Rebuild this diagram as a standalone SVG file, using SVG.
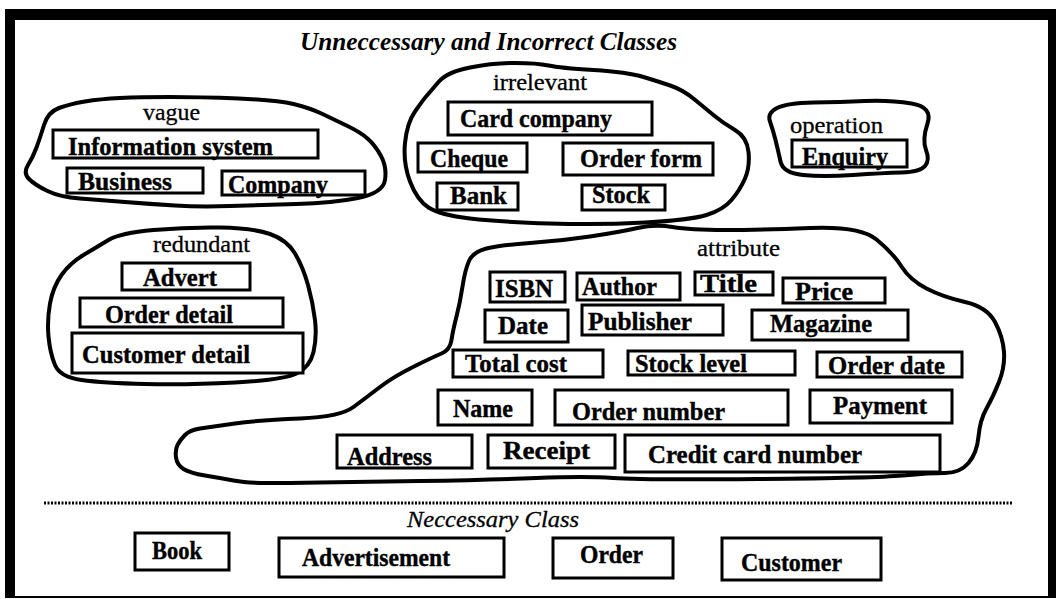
<svg xmlns="http://www.w3.org/2000/svg" width="1056" height="599" viewBox="0 0 1056 599">
<style>
.box{fill:#fff;stroke:#000;stroke-width:3}
.blob{fill:none;stroke:#000;stroke-width:4;stroke-linejoin:round;stroke-linecap:round}
.lbl{font-family:"Liberation Serif","Times New Roman",serif;font-weight:bold;font-size:25px;fill:#000;stroke:#000;stroke-width:0.4}
.cat{font-family:"Liberation Serif","Times New Roman",serif;font-size:24px;fill:#000;stroke:#000;stroke-width:0.3}
.head{font-family:"Liberation Serif","Times New Roman",serif;font-style:italic;font-weight:bold;font-size:25px;fill:#000}
.head2{font-family:"Liberation Serif","Times New Roman",serif;font-style:italic;font-size:24px;fill:#000;stroke:#000;stroke-width:0.3}
</style>
<rect width="1056" height="599" fill="#fff"/>
<g id="frame" fill="#000">
<rect x="5" y="9" width="1051" height="11"/>
<rect x="5" y="9" width="10" height="589"/>
<rect x="1048" y="9" width="8" height="589"/>
<rect x="5" y="596" width="1051" height="2"/>
</g>
<text class="head" x="300" y="50" textLength="377" lengthAdjust="spacingAndGlyphs">Unneccessary and Incorrect Classes</text>

<g id="vague">
<path class="blob" d="M44,125 Q48,112 59,108 Q70,104 85,101.5 Q100,99 120,98 Q140,97 170,97 Q200,97 238.5,98.5 Q277,100 293.5,104 Q310,108 322.5,114 Q335,120 347.5,126 Q360,132 367.5,138.5 Q375,145 381,156 Q387,167 385,180 Q383,193 358,198 Q333,203 296.5,204 Q260,205 230,206 Q200,207 175,205.5 Q150,204 125,202 Q100,200 80,198.5 Q60,197 47.5,191 Q35,185 29,179 Q23,173 28,165 Q33,157 36.5,147.5 Q40,138 44,125 Z"/>
<text class="cat" x="143" y="120" textLength="57" lengthAdjust="spacingAndGlyphs">vague</text>
<g id="information-system"><rect class="box" x="53" y="130" width="265" height="28"/><text class="lbl" x="68" y="155" textLength="205" lengthAdjust="spacingAndGlyphs">Information system</text></g>
<g id="business"><rect class="box" x="67" y="168" width="136" height="25"/><text class="lbl" x="78" y="190" textLength="94" lengthAdjust="spacingAndGlyphs">Business</text></g>
<g id="company"><rect class="box" x="222" y="171" width="143" height="24"/><text class="lbl" x="228" y="193" textLength="100" lengthAdjust="spacingAndGlyphs">Company</text></g>
</g>

<g id="irrelevant">
<path class="blob" d="M426.5,96 Q430,92 438.5,82 Q447,72 470,67.5 Q493,63 515,63 Q537,63 548.5,65.5 Q560,68 593.5,70 Q627,72 643.5,77 Q660,82 671.5,86 Q683,90 694,99 Q705,108 714,115.5 Q723,123 735,130 Q747,137 748.5,152 Q750,167 745,178.5 Q740,190 731.5,200 Q723,210 706.5,215 Q690,220 645,222.5 Q600,225 550,223.5 Q500,222 470,218.5 Q440,215 428.5,207.5 Q417,200 410,181.5 Q403,163 405,143 Q407,123 415,111.5 Q423,100 426.5,96 Z"/>
<text class="cat" x="493" y="90" textLength="94" lengthAdjust="spacingAndGlyphs">irrelevant</text>
<g id="card-company"><rect class="box" x="448" y="102" width="204" height="33"/><text class="lbl" x="460" y="127" textLength="152" lengthAdjust="spacingAndGlyphs">Card company</text></g>
<g id="cheque"><rect class="box" x="418" y="143" width="109" height="29"/><text class="lbl" x="430" y="167" textLength="78" lengthAdjust="spacingAndGlyphs">Cheque</text></g>
<g id="order-form"><rect class="box" x="563" y="143" width="150" height="32"/><text class="lbl" x="580" y="167" textLength="122" lengthAdjust="spacingAndGlyphs">Order form</text></g>
<g id="bank"><rect class="box" x="437" y="183" width="81" height="27"/><text class="lbl" x="450" y="204" textLength="57" lengthAdjust="spacingAndGlyphs">Bank</text></g>
<g id="stock"><rect class="box" x="582" y="185" width="83" height="25"/><text class="lbl" x="592" y="203" textLength="58" lengthAdjust="spacingAndGlyphs">Stock</text></g>
</g>

<g id="operation">
<path class="blob" d="M770,121.5 Q767,113 777,108 Q787,103 813.5,102.5 Q840,102 865,101 Q890,100 911.5,103.5 Q933,107 927.5,123.5 Q922,140 926,150 Q930,160 925,166 Q920,172 901.5,172.5 Q883,173 853,175 Q823,177 803,175 Q783,173 780.5,161.5 Q778,150 775.5,140 Q773,130 770,121.5 Z"/>
<text class="cat" x="790" y="133" textLength="93" lengthAdjust="spacingAndGlyphs">operation</text>
<g id="enquiry"><rect class="box" x="792" y="140" width="115" height="27"/><text class="lbl" x="802" y="165" textLength="86" lengthAdjust="spacingAndGlyphs">Enquiry</text></g>
</g>

<g id="redundant">
<path class="blob" d="M83.5,255 Q97,247 108.5,240 Q120,233 153.5,230 Q187,227 220,227.5 Q253,228 270,234 Q287,240 295,253.5 Q303,267 308,285 Q313,303 315,320 Q317,337 313.5,352 Q310,367 296.5,373.5 Q283,380 235,382.5 Q187,385 145,384 Q103,383 81.5,380 Q60,377 55,365 Q50,353 48.5,336.5 Q47,320 50,303.5 Q53,287 61.5,275 Q70,263 83.5,255 Z"/>
<text class="cat" x="153" y="252" textLength="97" lengthAdjust="spacingAndGlyphs">redundant</text>
<g id="advert"><rect class="box" x="122" y="263" width="128" height="27"/><text class="lbl" x="143" y="286" textLength="74" lengthAdjust="spacingAndGlyphs">Advert</text></g>
<g id="order-detail"><rect class="box" x="80" y="298" width="203" height="29"/><text class="lbl" x="105" y="323" textLength="128" lengthAdjust="spacingAndGlyphs">Order detail</text></g>
<g id="customer-detail"><rect class="box" x="72" y="333" width="231" height="40"/><text class="lbl" x="82" y="363" textLength="168" lengthAdjust="spacingAndGlyphs">Customer detail</text></g>
</g>

<g id="attribute">
<path class="blob" d="M469,261 Q473,252 486.5,248.5 Q500,245 530,243 Q560,241 590,236.5 Q620,232 637.5,228 Q655,224 672.5,227 Q690,230 725,230 Q760,230 810,228 Q860,226 876.5,239.5 Q893,253 901.5,266.5 Q910,280 926.5,288.5 Q943,297 965,302 Q987,307 995,322 Q1003,337 1004,352 Q1005,367 999,382 Q993,397 986.5,408.5 Q980,420 978.5,436.5 Q977,453 968.5,463 Q960,473 945,473 Q930,473 902.5,475.5 Q875,478 757.5,479 Q640,480 613,478 Q586,476 536.5,478 Q487,480 420,481 Q353,482 320,482.5 Q287,483 267,483 Q247,483 233.5,480.5 Q220,478 205,475.5 Q190,473 183.5,469 Q177,465 176,457.5 Q175,450 177.5,445 Q180,440 185,435 Q190,430 200,428.5 Q210,427 235,423.5 Q260,420 300,418.5 Q340,417 353.5,407 Q367,397 380,387 Q393,377 413,367 Q433,357 441.5,353.5 Q450,350 451.5,340 Q453,330 456.5,316.5 Q460,303 462.5,286.5 Q465,270 469,261 Z"/>
<text class="cat" x="697" y="256" textLength="83" lengthAdjust="spacingAndGlyphs">attribute</text>
<g id="isbn"><rect class="box" x="490" y="272" width="75" height="30"/><text class="lbl" x="495" y="297" textLength="58" lengthAdjust="spacingAndGlyphs">ISBN</text></g>
<g id="author"><rect class="box" x="577" y="273" width="103" height="27"/><text class="lbl" x="582" y="295" textLength="75" lengthAdjust="spacingAndGlyphs">Author</text></g>
<g id="title"><rect class="box" x="695" y="272" width="78" height="23"/><text class="lbl" x="700" y="292" textLength="57" lengthAdjust="spacingAndGlyphs">Title</text></g>
<g id="price"><rect class="box" x="783" y="278" width="102" height="25"/><text class="lbl" x="795" y="300" textLength="58" lengthAdjust="spacingAndGlyphs">Price</text></g>
<g id="date"><rect class="box" x="485" y="310" width="83" height="32"/><text class="lbl" x="498" y="334" textLength="50" lengthAdjust="spacingAndGlyphs">Date</text></g>
<g id="publisher"><rect class="box" x="582" y="305" width="141" height="30"/><text class="lbl" x="588" y="330" textLength="104" lengthAdjust="spacingAndGlyphs">Publisher</text></g>
<g id="magazine"><rect class="box" x="752" y="310" width="156" height="30"/><text class="lbl" x="770" y="332" textLength="102" lengthAdjust="spacingAndGlyphs">Magazine</text></g>
<g id="total-cost"><rect class="box" x="453" y="350" width="150" height="27"/><text class="lbl" x="465" y="372" textLength="102" lengthAdjust="spacingAndGlyphs">Total cost</text></g>
<g id="stock-level"><rect class="box" x="628" y="351" width="167" height="24"/><text class="lbl" x="635" y="372" textLength="112" lengthAdjust="spacingAndGlyphs">Stock level</text></g>
<g id="order-date"><rect class="box" x="817" y="352" width="145" height="25"/><text class="lbl" x="828" y="374" textLength="117" lengthAdjust="spacingAndGlyphs">Order date</text></g>
<g id="name"><rect class="box" x="438" y="390" width="94" height="35"/><text class="lbl" x="453" y="417" textLength="60" lengthAdjust="spacingAndGlyphs">Name</text></g>
<g id="order-number"><rect class="box" x="555" y="390" width="233" height="35"/><text class="lbl" x="572" y="420" textLength="153" lengthAdjust="spacingAndGlyphs">Order number</text></g>
<g id="payment"><rect class="box" x="810" y="390" width="142" height="33"/><text class="lbl" x="833" y="414" textLength="94" lengthAdjust="spacingAndGlyphs">Payment</text></g>
<g id="address"><rect class="box" x="337" y="435" width="135" height="33"/><text class="lbl" x="347" y="465" textLength="85" lengthAdjust="spacingAndGlyphs">Address</text></g>
<g id="receipt"><rect class="box" x="488" y="435" width="127" height="33"/><text class="lbl" x="503" y="459" textLength="87" lengthAdjust="spacingAndGlyphs">Receipt</text></g>
<g id="credit-card-number"><rect class="box" x="625" y="435" width="315" height="37"/><text class="lbl" x="648" y="463" textLength="214" lengthAdjust="spacingAndGlyphs">Credit card number</text></g>
</g>

<line x1="44" y1="503" x2="1013" y2="503" stroke="#000" stroke-width="3" stroke-dasharray="2 1.5"/>
<text class="head2" x="407" y="527" textLength="172" lengthAdjust="spacingAndGlyphs">Neccessary Class</text>

<g id="book"><rect class="box" x="135" y="533" width="94" height="37"/><text class="lbl" x="152" y="559" textLength="50" lengthAdjust="spacingAndGlyphs">Book</text></g>
<g id="advertisement"><rect class="box" x="279" y="538" width="225" height="39"/><text class="lbl" x="302" y="566" textLength="148" lengthAdjust="spacingAndGlyphs">Advertisement</text></g>
<g id="order"><rect class="box" x="553" y="538" width="120" height="40"/><text class="lbl" x="580" y="563" textLength="63" lengthAdjust="spacingAndGlyphs">Order</text></g>
<g id="customer"><rect class="box" x="722" y="538" width="159" height="42"/><text class="lbl" x="741" y="571" textLength="101" lengthAdjust="spacingAndGlyphs">Customer</text></g>

<g id="connectors"/>
</svg>
